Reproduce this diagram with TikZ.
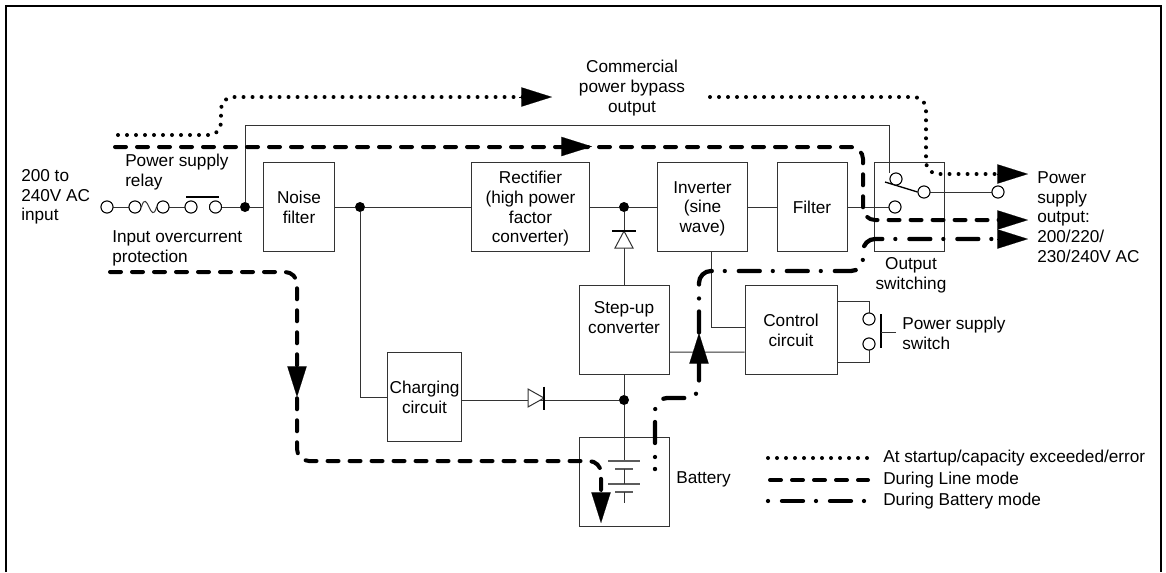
\documentclass[tikz,border=0pt]{standalone}
\usepackage{fontspec}
\setmainfont{Liberation Sans}
\usepackage{xcolor}
\usepackage{tikz}
\usetikzlibrary{arrows.meta,positioning,calc}
\definecolor{linegray}{HTML}{333333}
\tikzset{
  unitbox/.style={draw=linegray, line width=0.75pt, align=center, inner sep=0pt, minimum height=66.75pt, text depth=0pt},
  label/.style={align=left, anchor=west, inner sep=0pt},
  wire/.style={draw=linegray, line width=0.75pt},
  junction/.style={circle, fill=black, minimum size=7.5pt, inner sep=0pt},
  terminal/.style={circle, draw=black, fill=white, line width=0.7pt, minimum size=9pt, inner sep=0pt},
  startupline/.style={line width=3pt, line cap=round, dash pattern=on 0pt off 6.75pt, rounded corners=9pt},
  linemode/.style={line width=3pt, line cap=round, dash pattern=on 8.25pt off 8.25pt, rounded corners=9pt},
  batterymode/.style={line width=3.2pt, line cap=round, dash pattern=on 0pt off 10.5pt on 15.75pt off 9.75pt, rounded corners=9pt},
  flowhead/.style={-{Triangle[length=23pt, width=14.5pt]}, line width=0.1pt},
  diodeh/.pic={\draw[wire, fill=white] (-16,-9) -- (-16,9) -- (0,0) -- cycle; \draw[black, line width=1pt] (0,-11.5) -- (0,11.5);},
  diodev/.pic={\draw[wire, fill=white] (-9,17) -- (9,17) -- (0,0) -- cycle; \draw[black, line width=1pt] (-12,0) -- (12,0);},
  cellstack/.pic={
    \draw[linegray!80, line width=0.9pt] (-16,0) -- (16,0); \draw[linegray!80, line width=0.9pt] (-9,8) -- (9,8);
    \draw[linegray!80, line width=0.9pt] (-16,23) -- (16,23); \draw[linegray!80, line width=0.9pt] (-9,31) -- (9,31);
    \draw[wire] (0,8) -- (0,23); \draw[wire] (0,31) -- (0,42);}
}

\begin{document}
\begin{tikzpicture}[x=0.75pt, y=-0.75pt, font=\fontsize{12.9}{14.8}\selectfont]
  \useasboundingbox (0,0) rectangle (1166,572);
  \draw[line width=1.5pt] (6,572) -- (6,6) -- (1161,6) -- (1161,572);

  \node[unitbox, minimum width=53pt] (noise) at (299,207) {Noise\\filter};
  \node[unitbox, minimum width=88pt] (rectifier) at (530.5,207) {Rectifier\\(high power\\factor\\converter)};
  \node[unitbox, minimum width=68pt] (inverter) at (702.5,207) {Inverter\\(sine\\wave)};
  \node[unitbox, minimum width=52.5pt] (filter) at (812,207) {Filter};
  \node[unitbox, minimum width=52pt] (outsw) at (909.5,207) {};
  \node[unitbox, minimum width=67.5pt] (stepup) at (624,329.5) {Step-up\\converter\\[3pt]};
  \node[unitbox, minimum width=69pt] (control) at (791,330) {Control\\circuit};
  \node[unitbox, minimum width=55pt] (charging) at (424.5,397) {Charging\\circuit};
  \node[unitbox, minimum width=67.5pt] (battery) at (624,481.5) {};

  \node[label] (inputlbl) at (21,197) {200 to\\240V AC\\input};
  \node[label] (relaylbl) at (125,172) {Power supply\\relay};
  \node[label] (protlbl) at (112,248) {Input overcurrent\\protection};
  \node[align=center, inner sep=0pt] (bypasslbl) at (632,88) {Commercial\\power bypass\\output};
  \node[align=center, inner sep=0pt] (outswlbl) at (911,275) {Output\\switching};
  \node[label] (outputlbl) at (1037,217) {Power\\supply\\output:\\200/220/\\230/240V AC};
  \node[label] (batterylbl) at (676,479) {Battery};
  \node[label] (pswlbl) at (902,333) {Power supply\\switch};

  % input side
  \node[terminal] (ina) at (107,207) {};
  \node[terminal] (inb) at (135,207) {};
  \node[terminal] (inc) at (163,207) {};
  \node[terminal] (ind) at (191,207) {};
  \node[terminal] (ine) at (215.5,207) {};
  \node[junction] (dota) at (245,207) {};
  \node[junction] (dotn) at (360,207) {};
  \node[junction] (dotr) at (624,207) {};
  \node[junction] (dotb) at (624,400) {};
  \node[terminal] (swa) at (896,179) {};
  \node[terminal] (swc) at (924,192) {};
  \node[terminal] (swd) at (895,207) {};
  \node[terminal] (swo) at (998,192) {};
  \node[terminal] (pswa) at (869,319) {};
  \node[terminal] (pswb) at (869,344) {};
  \coordinate (relaya) at (186,197);
  \coordinate (relayb) at (219,197);
  \coordinate (armend) at (885,182);
  \coordinate (cell) at (624,461);
  \coordinate (pswbara) at (881,314);
  \coordinate (pswbarb) at (881,348);
  \coordinate (pswstub) at (896,332);

  \draw[wire] (ina) -- (inb);
  \draw[wire] (inb.east) .. controls (147,187) and (151,227) .. (inc.west);
  \draw[wire] (inc) -- (ind);
  \draw[black, line width=1.1pt] (relaya) -- (relayb);
  \draw[wire] (ine) -- (dota);
  \draw[wire] (dota) -- (noise.west);
  \draw[wire] (dota) -- ++(0,-82) -| ([xshift=-5pt]swa.north);
  \draw[wire] (noise.east) -- (dotn);
  \draw[wire] (dotn) -- (rectifier.west);
  \draw[wire] (dotn) |- (charging.west);
  \draw[wire] (rectifier.east) -- (dotr);
  \draw[wire] (dotr) -- (inverter.west);
  \draw[wire] (inverter.east) -- (filter.west);
  \draw[wire] (filter.east) -- (swd.west);
  \draw[black, line width=1pt] (armend) -- (swc.west);
  \draw[wire] (swc) -- (swo);
  \draw[wire] (dotr) -- (stepup.north);
  \draw[wire] (stepup.south) -- (dotb);
  \draw[wire] (dotb) -- (cell);
  \draw[wire] (charging.east |- dotb) -- (dotb);
  \draw[wire] ([yshift=-16.9pt]stepup.east) -- ([yshift=-16.5pt]control.west);
  \draw[wire] ([xshift=7.1pt]inverter.south) |- ([yshift=2.25pt]control.west);
  \draw[wire] ([yshift=21.75pt]control.east) -| (pswa.north);
  \draw[wire] ([yshift=-24pt]control.east) -| (pswb.south);
  \draw[black, line width=1pt] (pswbara) -- (pswbarb);
  \draw[wire] (pswstub) -- (pswstub -| pswbara);
  \pic at (544,398) {diodeh};
  \pic at (624,231) {diodev};
  \pic at (cell) {cellstack};
  \foreach \n in {ina,inb,inc,ind,ine,swa,swc,swd,swo,pswa,pswb}{\node[terminal] at (\n) {};}

  % flow paths
  \coordinate (starta) at (118,135);
  \coordinate (startb) at (710,97);
  \coordinate (linea) at (115,147);
  \coordinate (lineb) at (110,272);
  \coordinate (batt) at (655,457);
  \draw[startupline] (starta) -- (221,135) -- (221,97) -- (530,97);
  \draw[startupline] (startb) -- (926,97) -- (926,174) -- (1005,174);
  \draw[linemode] (linea) -- (863,147) -- (863,220) -- (1005,220);
  \draw[linemode] (lineb) -- (297,272) -- (297,461) -- (601,461) -- (601,495);
  \fill (655,469) circle (2.2);
  \draw[batterymode] (batt) -- (655,398) -- (699,398) -- (699,271) -- (863,271) -- (863,239) -- (1005,239);
  \draw[flowhead] (519,97) -- (552,97);
  \draw[flowhead] (997,174) -- (1028,174);
  \draw[flowhead] (562,146.5) -- (592,146.5);
  \draw[flowhead] (997,220) -- (1028,220);
  \draw[flowhead] (997,239) -- (1028,239);
  \draw[flowhead] (297,368) -- (297,397);
  \draw[flowhead] (601,488) -- (601,523);
  \draw[flowhead] (699,364) -- (699,333);

  % legend
  \node[label] (legstart) at (883,458) {At startup/capacity exceeded/error};
  \node[label] (legline) at (883,480) {During Line mode};
  \node[label] (legbatt) at (883,501) {During Battery mode};
  \draw[startupline] (768,458) -- (868,458);
  \draw[linemode] (770,480) -- (868,480);
  \draw[batterymode] (768,501) -- (868,501);
\end{tikzpicture}
\end{document}
